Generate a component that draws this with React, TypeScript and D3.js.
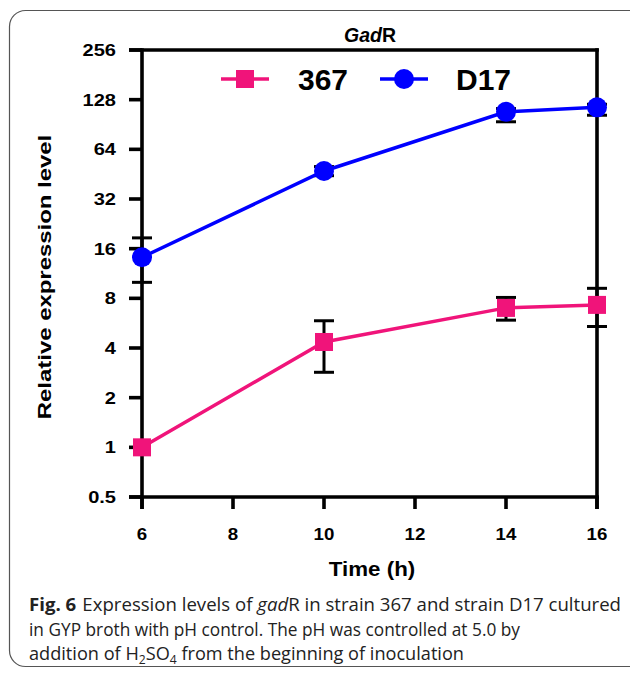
import React from 'react';
import * as d3 from 'd3';

const times = [6, 10, 14, 16];
const strain367 = [1, 4.35, 7.0, 7.3];
const err367Up = [0, 1.5, 1.1, 1.9];
const err367Down = [0, 1.5, 1.1, 1.9];
const strainD17 = [14.2, 47.3, 108, 115];
const errD17Up = [4.4, 3, 5, 5];
const errD17Down = [4.2, 3, 14, 12];
const xTicks = [6, 8, 10, 12, 14, 16];
const yTicks = [0.5, 1, 2, 4, 8, 16, 32, 64, 128, 256];
const yTickLabels = ['0.5', '1', '2', '4', '8', '16', '32', '64', '128', '256'];
const seriesNames = ['367', 'D17'];
const colors = ['#F0147A', '#0000FF'];

const FONT = 'Liberation Sans, Arial, Helvetica, sans-serif';
const CAP_FONT = 'Open Sans, Noto Sans, sans-serif';

type TProps = {
  x: number; y: number; sx?: number; rotate?: number; anchor?: string;
  size: number; weight?: string; italic?: boolean; children: React.ReactNode;
};
const T = ({ x, y, sx = 1, rotate = 0, anchor = 'start', size, weight = 'bold', italic = false, children }: TProps) => (
  <text
    transform={`translate(${x},${y}) rotate(${rotate}) scale(${sx},1)`}
    textAnchor={anchor as any}
    fontSize={size}
    fontWeight={weight}
    fontStyle={italic ? 'italic' : 'normal'}
    fontFamily={FONT}
    fill="#000"
  >
    {children}
  </text>
);

export default function App() {
  const left = 142, right = 597, top = 50, bottom = 497;
  const x = d3.scaleLinear().domain([6, 16]).range([left, right]);
  const y = d3.scaleLog().base(2).domain([0.5, 256]).range([bottom, top]);
  const line = d3.line<number>().x((_, i) => x(times[i])).y((v) => y(v));
  const series = [
    { vals: strain367, up: err367Up, down: err367Down },
    { vals: strainD17, up: errD17Up, down: errD17Down },
  ];
  const axisW = 3.6;
  const tickLen = 13;
  const cap = 20;

  return (
    <svg width={630} height={673} style={{ position: 'absolute', left: 0, top: 0, background: '#fff' }}>
      <rect x={0} y={0} width={630} height={673} fill="#fff" />
      <rect x={9.5} y={10.5} width={640} height={656} rx={16} ry={16} fill="none" stroke="#555" strokeWidth={1.2} />

      {/* title */}
      <text x={370} y={42} textAnchor="middle" fontSize={19.5} fontWeight="bold" fontFamily={FONT}>
        <tspan fontStyle="italic">Gad</tspan>R
      </text>

      {/* frame / axes */}
      <g stroke="#000" strokeWidth={axisW} fill="none">
        <line x1={left - tickLen} x2={right + axisW / 2} y1={top} y2={top} />
        <line x1={left - tickLen} x2={right + axisW / 2} y1={bottom} y2={bottom} />
        <line x1={left} x2={left} y1={top - axisW / 2} y2={bottom + 12} />
        <line x1={right} x2={right} y1={top - axisW / 2} y2={bottom + 12} />
        {yTicks.map((t) => (
          <line key={'yt' + t} x1={left - tickLen} x2={left} y1={y(t)} y2={y(t)} />
        ))}
        {xTicks.map((t) => (
          <line key={'xt' + t} x1={x(t)} x2={x(t)} y1={bottom} y2={bottom + 12} />
        ))}
      </g>

      {yTicks.map((t, i) => (
        <T key={'yl' + t} x={116} y={y(t) + 6} sx={1.18} anchor="end" size={17}>
          {yTickLabels[i]}
        </T>
      ))}
      {xTicks.map((t) => (
        <T key={'xl' + t} x={x(t)} y={540} sx={1.1} anchor="middle" size={17}>
          {String(t)}
        </T>
      ))}

      <T x={372} y={576} sx={1.09} anchor="middle" size={20.5}>Time (h)</T>
      <T x={51} y={277} rotate={-90} sx={1.33} anchor="middle" size={18}>Relative expression level</T>

      {/* error bars */}
      <g stroke="#000" strokeWidth={3}>
        {series.map((s, si) =>
          s.vals.map((v, i) => {
            if (!s.up[i] && !s.down[i]) return null;
            const cx = x(times[i]);
            const y1 = y(v + s.up[i]);
            const y2 = y(Math.max(v - s.down[i], 0.01));
            return (
              <g key={`e${si}-${i}`}>
                <line x1={cx} x2={cx} y1={y1} y2={y2} />
                <line x1={cx - cap / 2} x2={cx + cap / 2} y1={y1} y2={y1} />
                <line x1={cx - cap / 2} x2={cx + cap / 2} y1={y2} y2={y2} />
              </g>
            );
          })
        )}
      </g>

      {/* lines */}
      {series.map((s, si) => (
        <path key={'l' + si} d={line(s.vals) || ''} fill="none" stroke={colors[si]} strokeWidth={3.5} />
      ))}

      {/* markers */}
      {strain367.map((v, i) => (
        <rect key={'m0' + i} x={x(times[i]) - 9} y={y(v) - 9} width={18} height={18} fill={colors[0]} />
      ))}
      {strainD17.map((v, i) => (
        <circle key={'m1' + i} cx={x(times[i])} cy={y(v)} r={10} fill={colors[1]} />
      ))}

      {/* legend */}
      <line x1={221} x2={269} y1={79} y2={79} stroke={colors[0]} strokeWidth={3.5} />
      <rect x={236} y={70} width={18} height={18} fill={colors[0]} />
      <T x={298} y={90} size={30}>{seriesNames[0]}</T>
      <line x1={380} x2={428} y1={79} y2={79} stroke={colors[1]} strokeWidth={3.5} />
      <circle cx={404} cy={79} r={10} fill={colors[1]} />
      <T x={456} y={90} size={30}>{seriesNames[1]}</T>

      {/* caption */}
      <g fontFamily={CAP_FONT} fontSize={18} fill="#222">
        <text x={29} y={611} textLength={592} lengthAdjust="spacingAndGlyphs">
          <tspan fontWeight="bold">Fig. 6</tspan>
          <tspan dx={6}>Expression levels of </tspan>
          <tspan fontStyle="italic">gad</tspan>
          <tspan>R in strain 367 and strain D17 cultured</tspan>
        </text>
        <text x={29} y={636} textLength={491} lengthAdjust="spacingAndGlyphs">
          in GYP broth with pH control. The pH was controlled at 5.0 by
        </text>
        <text x={29} y={660} textLength={435} lengthAdjust="spacingAndGlyphs">
          <tspan>addition of H</tspan>
          <tspan fontSize={12} dy={4}>2</tspan>
          <tspan dy={-4}>SO</tspan>
          <tspan fontSize={12} dy={4}>4</tspan>
          <tspan dy={-4}> from the beginning of inoculation</tspan>
        </text>
      </g>
    </svg>
  );
}
